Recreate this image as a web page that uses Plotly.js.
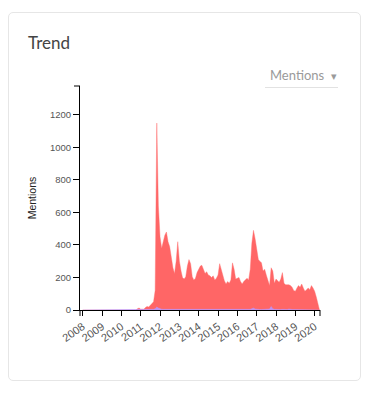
<!DOCTYPE html>
<html>
<head>
<meta charset="utf-8">
<script src="https://cdn.plot.ly/plotly-3.0.1.min.js"></script>
<style>
html,body{margin:0;padding:0;background:#fff;width:378px;height:393px;overflow:hidden;}
#card{position:absolute;left:8px;top:12px;width:351px;height:367px;border:1px solid #e6e6e6;border-radius:5px;box-sizing:content-box;}
#chart{position:absolute;left:0;top:0;width:378px;height:393px;}
</style>
</head>
<body>
<div id="card"></div>
<div id="chart"></div>
<script>
// Monthly values, starting January 2008
const startYear = 2008;
const mentions = [
  0,0,0,0,0,0,0,0,0,0,0,0,            // 2008
  0,0,0,0,0,0,0,0,0,0,0,0,            // 2009
  0,0,0,0,0,0,0,0,0,0,8,12,           // 2010
  5,3,5,15,22,18,28,40,50,120,1150,640, // 2011
  450,380,430,460,480,420,390,320,260,225,300,420, // 2012
  300,240,200,190,205,270,310,285,205,185,195,230, // 2013
  255,270,275,250,225,235,215,210,200,210,185,195, // 2014
  215,285,250,205,180,160,175,165,185,290,250,190, // 2015
  195,200,175,160,175,185,195,185,250,410,490,440, // 2016
  370,310,300,290,240,250,215,185,150,260,240,165, // 2017
  190,180,170,190,230,165,155,155,155,150,140,120, // 2018
  115,135,150,140,160,135,115,125,135,125,150,135, // 2019
  115,80,40,0                                      // 2020
];
const sentiment = [
  0,0,0,0,0,0,0,0,0,0,0,0,
  0,0,0,0,0,0,0,0,0,0,0,0,
  0,0,0,0,0,0,0,0,0,0,1,1,
  1,1,1,1,2,2,2,3,4,8,18,12,
  6,5,4,4,4,4,4,3,3,3,3,4,
  3,3,3,3,3,3,3,3,3,3,3,3,
  3,3,3,3,3,3,3,3,3,3,3,3,
  3,3,3,3,3,3,3,3,3,3,3,3,
  3,3,3,3,3,3,3,3,4,8,12,6,
  4,3,3,3,3,3,3,4,6,22,8,4,
  3,3,3,3,4,3,3,3,6,3,3,3,
  3,3,3,3,4,3,3,3,3,3,4,3,
  3,2,1,0
];
const yTicks = [0,200,400,600,800,1000,1200];

const dates = mentions.map((_, i) => {
  const y = startYear + Math.floor(i / 12);
  const m = (i % 12) + 1;
  return y + '-' + String(m).padStart(2, '0') + '-01';
});

const traces = [
  {
    x: dates, y: mentions, type: 'scatter', mode: 'lines',
    fill: 'tozeroy', fillcolor: '#ff6666',
    line: {color: 'rgba(255,110,110,0.7)', width: 0.6, shape: 'linear'},
    hoverinfo: 'skip', showlegend: false
  },
  {
    x: dates, y: sentiment, type: 'scatter', mode: 'lines',
    fill: 'tozeroy', fillcolor: 'rgba(185,150,255,0.9)',
    line: {color: 'rgba(185,150,255,0.9)', width: 0.5},
    hoverinfo: 'skip', showlegend: false
  }
];

const L = 80, R = 58, T = 86, B = 83, W = 378, H = 393;
const pw = W - L - R, ph = H - T - B;
const px = v => (v - L) / pw;
const py = v => 1 - (v - T) / ph;

const layout = {
  width: W, height: H,
  margin: {l: L, r: R, t: T, b: B, pad: 0},
  paper_bgcolor: 'rgba(0,0,0,0)',
  plot_bgcolor: 'rgba(0,0,0,0)',
  title: {
    text: 'Trend',
    font: {family: 'Lato', size: 17, color: '#444'},
    xref: 'container', x: 28 / W, xanchor: 'left',
    yref: 'container', y: 1 - 43 / H, yanchor: 'middle'
  },
  xaxis: {
    type: 'date',
    range: ['2007-11-11', '2020-04-11'],
    tick0: '2008-01-01', dtick: 'M12', tickformat: '%Y',
    tickangle: -35,
    ticks: 'outside', ticklen: 5, tickcolor: '#000', tickwidth: 1,
    showline: true, linecolor: '#000', linewidth: 1,
    showgrid: false, zeroline: false,
    tickfont: {family: 'Liberation Sans, Arial', size: 11, color: '#555'},
    fixedrange: true
  },
  yaxis: {
    range: [0, 1378],
    tickvals: yTicks,
    ticks: 'outside', ticklen: 6, tickcolor: '#000', tickwidth: 1,
    showline: true, linecolor: '#000', linewidth: 1,
    showgrid: false, zeroline: false,
    tickfont: {family: 'Liberation Sans, Arial', size: 9.5, color: '#555'},
    title: {text: 'Mentions', font: {family: 'Liberation Sans, Arial', size: 10.5, color: '#222'}, standoff: 11},
    fixedrange: true
  },
  annotations: [
    {
      text: 'Mentions  <span style="font-size:11px">▾</span>',
      xref: 'paper', yref: 'paper',
      x: px(339), y: py(75), xanchor: 'right', yanchor: 'middle',
      showarrow: false,
      font: {family: 'Lato', size: 13, color: '#9a9a9a'}
    }
  ],
  shapes: [
    {type: 'line', xref: 'paper', yref: 'paper', x0: px(265), x1: px(338), y0: py(87.5), y1: py(87.5), line: {color: '#e2e2e2', width: 1}},
    {type: 'line', xref: 'paper', yref: 'paper', x0: px(74), x1: 0, y0: 1, y1: 1, line: {color: '#000', width: 1}},
    {type: 'line', xref: 'paper', yref: 'paper', x0: 0, x1: 0, y0: 0, y1: py(316), line: {color: '#000', width: 1}},
    {type: 'line', xref: 'paper', yref: 'paper', x0: 1, x1: 1, y0: 0, y1: py(316), line: {color: '#000', width: 1}}
  ]
};

Plotly.newPlot('chart', traces, layout, {displayModeBar: false, staticPlot: true});
</script>
</body>
</html>
